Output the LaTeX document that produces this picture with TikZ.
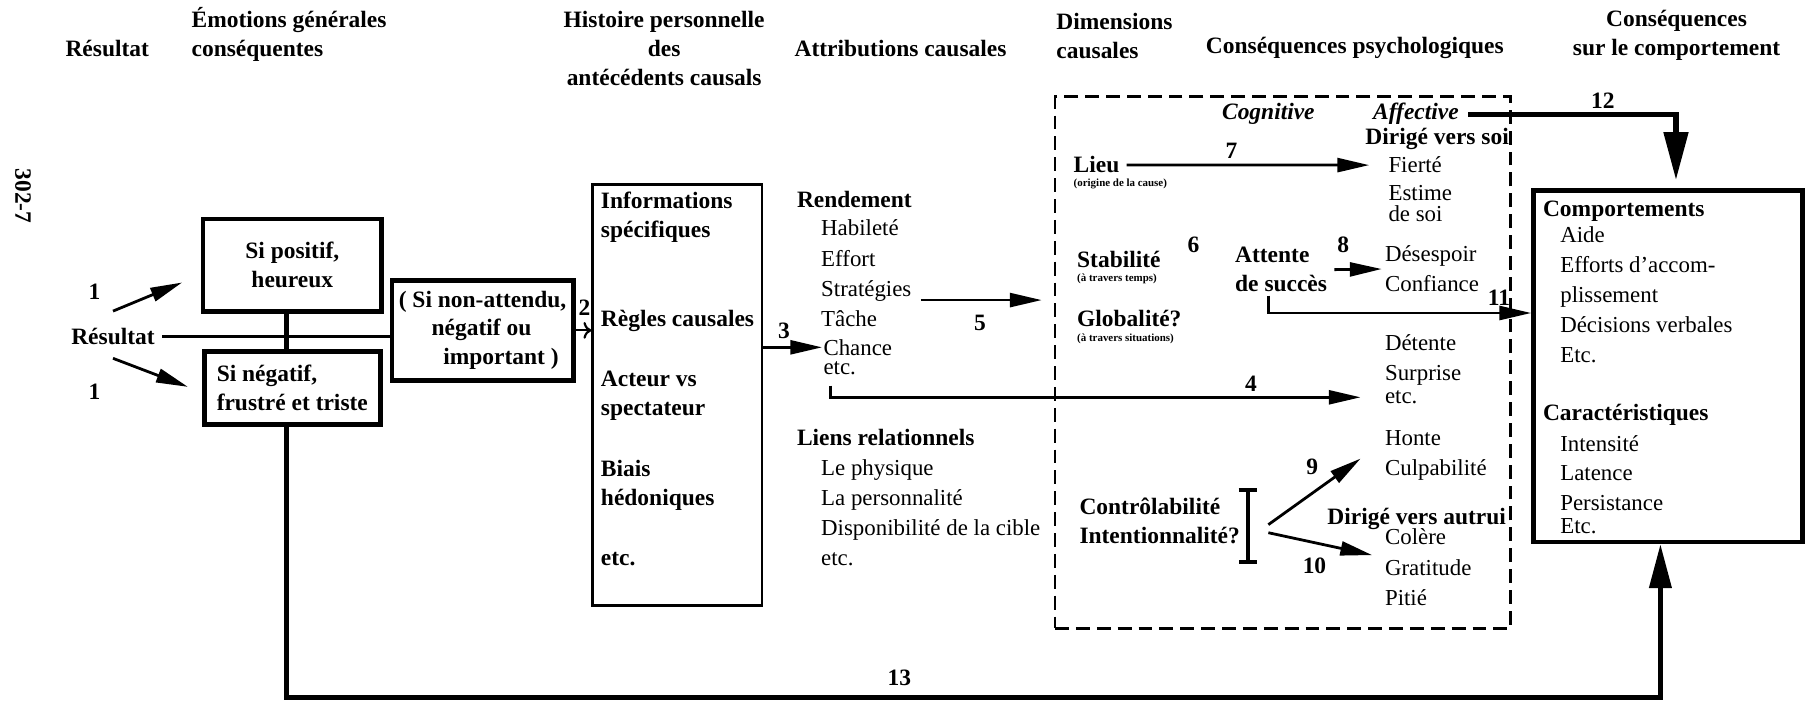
\documentclass[tikz,border=0pt]{standalone}
\usepackage{fontspec}
\setmainfont{Liberation Serif}
\usepackage{tikz}
\usetikzlibrary{arrows.meta}
\usetikzlibrary{calc}
\tikzset{l/.style={font=\fontsize{11.5}{15}\selectfont, inner sep=0pt}}
\tikzset{h/.style={font=\fontsize{11.8}{14.5}\selectfont\bfseries, inner sep=0pt}}
\tikzset{hi/.style={font=\fontsize{11.8}{14.5}\selectfont\bfseries\itshape, inner sep=0pt}}
\tikzset{m/.style={font=\fontsize{5.5}{6}\selectfont\bfseries, inner sep=0pt}}
\tikzset{box/.style={draw, line width=2.4pt, inner sep=0pt}}
\tikzset{tip/.style={-{Triangle[length=16pt,width=7pt]}}}

\begin{document}
\begin{tikzpicture}[x=0.58pt, y=-0.58pt, line width=1.4pt]
        \useasboundingbox (0,0) rectangle (1568,610);
        % titres des colonnes
        \node[h] (tres) at (93,42) {Résultat};
        \node[h, anchor=west, align=left] (temo) at (165,30) {Émotions générales\\conséquentes};
        \node[h, align=center] (thist) at (576,42) {Histoire personnelle\\des\\antécédents causals};
        \node[h] (tattr) at (781,42) {Attributions causales};
        \node[h, anchor=west, align=left] (tdim) at (915,31) {Dimensions\\causales};
        \node[h] (tpsy) at (1175,42) {Conséquences psychologiques};
        \node[h, align=center] (tcomp) at (1454,31) {Conséquences\\sur le comportement};
        \node[h, rotate=-90] (page) at (20,170) {302-7};

        % résultat et émotions
        \node[h] (res) at (98,292) {Résultat};
        \node[box, h, align=center, minimum width=89.9pt, minimum height=46.4pt] (pos) at (253.5,230) {Si positif,\\heureux};
        \node[box, h, align=left, minimum width=88.7pt, minimum height=36.5pt] (neg) at (253.5,336.5) {Si négatif,\\frustré et triste};
        \node[box, h, align=left, minimum width=91.1pt, minimum height=50.5pt] (nonatt) at (418.5,286.5) {( Si non-attendu,\\\hspace{1.4em}négatif ou\\\hspace{1.9em}important )};

        % antécédents
        \node[draw, line width=1.2pt, minimum width=85.3pt, minimum height=211.7pt] (info) at (587.5,342.5) {};
        \node[h, anchor=base west, align=left] (ispe) at (520,206) {Informations\\spécifiques};
        \node[h, anchor=base west] (iregl) at (520,283) {Règles causales};
        \node[h, anchor=base west, align=left] (iact) at (520,360) {Acteur vs\\spectateur};
        \node[h, anchor=base west, align=left] (ibia) at (520,438) {Biais\\hédoniques};
        \node[h, anchor=base west] (ietc) at (520,490) {etc.};

        % attributions
        \node[h, anchor=base west] (rend) at (690,180) {Rendement};
        \node[l, anchor=base west] (hab) at (711,204) {Habileté};
        \node[l, anchor=base west] (eff) at (711,231) {Effort};
        \node[l, anchor=base west] (strat) at (711,257) {Stratégies};
        \node[l, anchor=base west] (tach) at (711,283) {Tâche};
        \node[l, anchor=base west] (chan) at (713,308) {Chance};
        \node[l, anchor=base west] (etca) at (713,325) {etc.};
        \node[h, anchor=base west] (liens) at (690,386) {Liens relationnels};
        \node[l, anchor=base west, align=left] (lphy) at (711,490) {Le physique\\La personnalité\\Disponibilité de la cible\\etc.};

        % dimensions et conséquences psychologiques
        \node[draw, line width=1.4pt, dash pattern=on 7pt off 3.5pt, minimum width=229.1pt, minimum height=267.4pt] (dim) at (1112.5,314.5) {};
        \node[hi] (cog) at (1100,99) {Cognitive};
        \node[hi] (aff) at (1228,99) {Affective};
        \node[h, anchor=base west] (soi) at (1183,125) {Dirigé vers soi};
        \node[h, anchor=base west] (lieu) at (930,150) {Lieu};
        \node[m, anchor=base west] (lieum) at (930,162) {(origine de la cause)};
        \node[l, anchor=base west] (fier) at (1203,150) {Fierté};
        \node[l, anchor=base west, align=left, font=\fontsize{11.5}{10.5}\selectfont] (esti) at (1203,192) {Estime\\de soi};
        \node[h, anchor=base west] (stab) at (933,232) {Stabilité};
        \node[m, anchor=base west] (stabm) at (933,244) {(à travers temps)};
        \node[h, anchor=base west] (glob) at (933,283) {Globalité?};
        \node[m, anchor=base west] (globm) at (933,296) {(à travers situations)};
        \node[h, anchor=base west, align=left] (atte) at (1070,253) {Attente\\de succès};
        \node[l, anchor=base west, align=left] (dese) at (1200,253) {Désespoir\\Confiance};
        \node[l, anchor=base west, align=left] (dete) at (1200,330) {Détente\\Surprise};
        \node[l, anchor=base west] (etcb) at (1200,350) {etc.};
        \node[l, anchor=base west, align=left] (hont) at (1200,412) {Honte\\Culpabilité};
        \node[h, anchor=base west, align=left] (ctrl) at (935,471) {Contrôlabilité\\Intentionnalité?};
        \node[h, anchor=base west] (autr) at (1150,455) {Dirigé vers autrui};
        \node[l, anchor=base west] (cole) at (1200,472) {Colère};
        \node[l, anchor=base west, align=left] (grat) at (1200,525) {Gratitude\\Pitié};

        % comportement
        \node[box, minimum width=135.1pt, minimum height=176.9pt] (comp) at (1446.5,317.5) {};
        \node[h, anchor=base west] (cmp) at (1337,188) {Comportements};
        \node[l, anchor=base west, align=left] (cmpl) at (1352,314) {Aide\\Efforts d'accom-\\plissement\\Décisions verbales\\Etc.};
        \node[h, anchor=base west] (car) at (1337,365) {Caractéristiques};
        \node[l, anchor=base west, align=left] (carl) at (1352,443) {Intensité\\Latence\\Persistance};
        \node[l, anchor=base west] (care) at (1352,463) {Etc.};

        % numéros
        \node[h] (n1a) at (82,253) {1};
        \node[h] (n1b) at (82,340) {1};
        \node[h] (n2) at (507,267) {2};
        \node[h] (n3) at (680,287) {3};
        \node[h] (n4) at (1085,333) {4};
        \node[h] (n5) at (850,280) {5};
        \node[h] (n6) at (1035,212) {6};
        \node[h] (n7) at (1068,131) {7};
        \node[h] (n8) at (1165,212) {8};
        \node[h] (n9) at (1138,405) {9};
        \node[h] (n10) at (1140,491) {10};
        \node[h] (n11) at (1300,258) {11};
        \node[h] (n12) at (1390,87) {12};
        \node[h] (n13) at (780,588) {13};

        % liens
        \draw[shorten <=3pt] (res.east) -- (res.east -| nonatt.west);
        \draw[line width=2.4pt] ([xshift=-3pt]pos.south) -- ([xshift=-3pt]neg.north);
        \draw[tip] ([yshift=8pt]res.north) -- ($(pos.west)+(-16,15)$);
        \draw[tip] ([yshift=-6pt]res.south) -- ($(neg.west)+(-12,-1)$);
        \draw[line width=1.1pt, ->] (nonatt.east) -- (nonatt.east -| info.west);
        \draw[tip] (info.east |- chan.west) -- (chan.west);
        \coordinate (s5) at ($(strat.east)+(7,8)$);
        \draw[tip, shorten >=6pt] (s5) -- (s5 -| dim.west);
        \draw[tip] ($(etca.south west)+(7,8)$) |- ($(etcb.west)+(-20,0)$);
        \draw[tip, shorten <=3pt, shorten >=9pt] (lieu.east) -- (fier.west);
        \draw[tip, shorten <=3pt, shorten >=1pt] (atte.east) -- (dese.west);
        \coordinate (s11) at ($(atte.south west)+(30,2)$);
        \coordinate (k11) at ($(atte.south west)+(30,17)$);
        \draw[tip] (s11) |- (k11 -| comp.west);
        \draw[line width=2.6pt, -{Triangle[length=24pt,width=12pt]}, shorten <=4pt, shorten >=4pt] (aff.east) -| ($(comp.north)+(7,0)$);
        \coordinate (c13) at (1440,605);
        \draw[line width=2.2pt, -{Triangle[length=22pt,width=11pt]}] ([xshift=-3pt]neg.south) |- (c13) -- (c13 |- comp.south);

        % crochet
        \coordinate (brt) at (1082,423);
        \coordinate (brb) at (1082,489);
        \coordinate (brm) at (1082,458);
        \draw[line width=2pt, {Bar[width=9pt]}-{Bar[width=9pt]}] (brt) -- (brb);
        \draw[tip] ($(brm)+(18,-3)$) -- ($(hont.west)+(-20,3)$);
        \draw[tip] ($(brm)+(18,4)$) -- ($(cole.south west)+(-10,8)$);
\end{tikzpicture}
\end{document}
